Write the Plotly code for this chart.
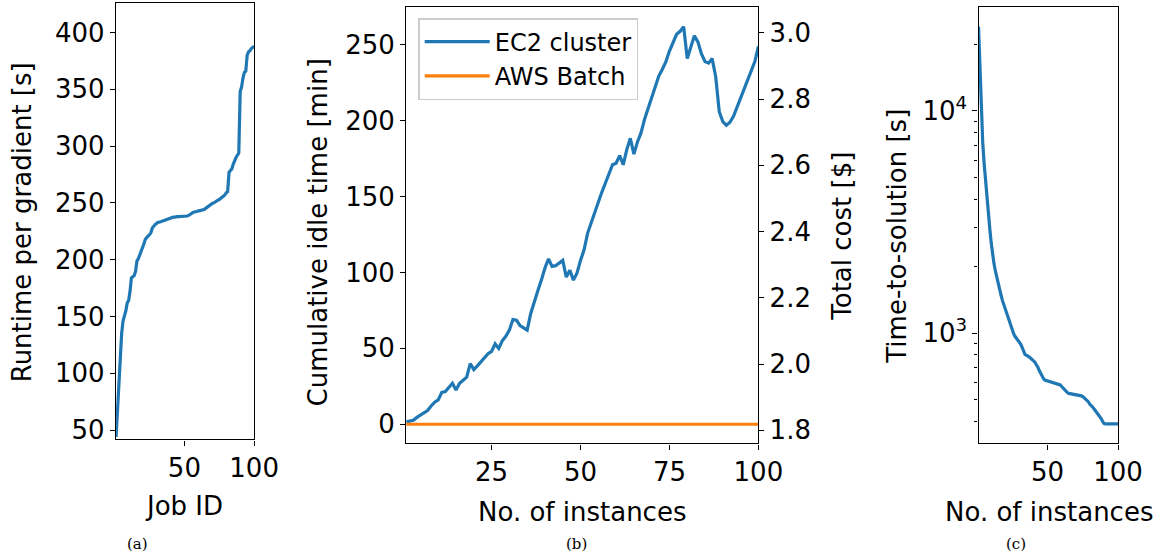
import plotly.graph_objects as go

W, H = 1163, 558

# ---------------- data ----------------
job_id = list(range(1, 101))
runtime_per_gradient = [
    44, 70, 96, 115, 135, 146, 150, 155, 162, 164,
    172, 184, 185, 186, 190, 199, 201, 204, 208, 211,
    214, 218, 220, 221, 222, 224, 228, 230, 231, 232,
    233, 233, 233.5, 234, 234.5, 235, 235.5, 236, 236.5, 237,
    237, 237.5, 237.5, 238, 238, 238, 238, 238, 238, 238,
    238.5, 238.5, 239, 240, 241, 241.5, 242, 242, 242.5, 243,
    243, 243.5, 244, 244, 245, 246, 247, 248, 249, 249.5,
    250, 251, 252, 252.5, 253, 254, 255, 256, 257, 259,
    260, 277, 279, 280, 284, 288, 290, 292, 294, 348,
    352, 360, 365, 366, 380, 383, 384, 386, 387, 388,
]

instances = list(range(1, 101))
ec2_idle = [
    1.5, 2, 2.6, 4.5, 6, 7, 9, 12, 14.5, 16,
    21, 21.5, 24, 27, 22.5, 27, 29, 31, 40, 36,
    38.5, 41, 44, 46.5, 48, 53, 50, 55, 58, 62,
    69, 68.6, 65, 63.5, 62, 73, 81, 88, 95, 103,
    109, 104, 104.5, 106, 108, 97, 101.5, 95, 99.5, 108,
    115, 126, 133, 140, 147, 153, 159, 165, 171, 172,
    177, 171, 181, 188.5, 178, 186, 192, 201, 208, 216,
    223, 229.5, 234, 239, 246, 252, 257, 259, 262, 241,
    249, 256, 252, 244, 239, 238, 241, 229, 206, 199.5,
    197, 199, 203, 209, 214.5, 220, 226, 232, 239, 249,
]
batch_idle = [0] * 100

time_to_solution = [
    24000, 15000, 10000, 7200, 5800, 4800, 4000, 3400, 2950, 2550,
    2250, 2050, 1900, 1775, 1650, 1560, 1480, 1400, 1340, 1270,
    1210, 1160, 1110, 1060, 1020, 990, 965, 945, 925, 912,
    890, 860, 820, 800, 795, 790, 780, 770, 762, 755,
    740, 720, 705, 680, 660, 640, 625, 615, 612, 610,
    608, 606, 603, 600, 597, 594, 590, 587, 584, 575,
    565, 555, 550, 540, 535, 534, 532, 530, 528, 527,
    526, 525, 524, 522, 518, 512, 506, 498, 490, 478,
    472, 465, 455, 447, 440, 430, 420, 412, 400, 392,
    390, 390, 390, 390, 390, 390, 390, 390, 390, 390,
]

cost_ticks = [1.8, 2.0, 2.2, 2.4, 2.6, 2.8, 3.0]
log_major = [1000, 10000]
log_major_text = ["10<sup>3</sup>", "10<sup>4</sup>"]
log_minor = [400, 500, 600, 700, 800, 900, 2000, 3000, 4000, 5000,
             6000, 7000, 8000, 9000, 20000]

BLUE = "#1f77b4"
ORANGE = "#ff7f0e"
FONT = "DejaVu Sans"
FS = 26
SX = 1.0225   # compensation factors
SY = 1.012


def px_x(p):
    return p * SX / W


def px_y(p):
    return 1 - p * SY / H


fig = go.Figure()

# panel a
fig.add_trace(go.Scatter(x=job_id, y=runtime_per_gradient, mode="lines",
                         line=dict(color=BLUE, width=3.2), showlegend=False,
                         xaxis="x", yaxis="y"))
# panel b
fig.add_trace(go.Scatter(x=instances, y=ec2_idle, mode="lines", name="EC2 cluster",
                         line=dict(color=BLUE, width=3.2), xaxis="x2", yaxis="y2"))
fig.add_trace(go.Scatter(x=instances, y=batch_idle, mode="lines", name="AWS Batch",
                         line=dict(color=ORANGE, width=3.2), xaxis="x2", yaxis="y2"))
fig.add_trace(go.Scatter(x=[None], y=[None], mode="lines", showlegend=False,
                         hoverinfo="skip", xaxis="x2", yaxis="y3"))
# panel c
fig.add_trace(go.Scatter(x=instances, y=time_to_solution, mode="lines",
                         line=dict(color=BLUE, width=3.2), showlegend=False,
                         xaxis="x3", yaxis="y4"))

axis_common = dict(showgrid=False, zeroline=False, showline=True, linecolor="black",
                   linewidth=1.4, mirror=True, ticks="outside", ticklen=5, tickwidth=1.3,
                   tickcolor="black", tickfont=dict(family=FONT, size=FS, color="black"))

fig.update_layout(
    width=W, height=H, margin=dict(l=0, r=0, t=0, b=0),
    paper_bgcolor="white", plot_bgcolor="white",
    font=dict(family=FONT, size=FS, color="black"),
    xaxis=dict(domain=[px_x(116), px_x(254)], range=[1, 100], tickvals=[50, 100],
               anchor="y", **axis_common),
    yaxis=dict(domain=[px_y(439), px_y(3)], range=[41.8, 426],
               tickvals=[50, 100, 150, 200, 250, 300, 350, 400], anchor="x", **axis_common),
    xaxis2=dict(domain=[px_x(406), px_x(758)], range=[1, 100], tickvals=[25, 50, 75, 100],
                anchor="y2", **axis_common),
    yaxis2=dict(domain=[px_y(443), px_y(7)], range=[-12.7, 275],
                tickvals=[0, 50, 100, 150, 200, 250], anchor="x2", **axis_common),
    yaxis3=dict(overlaying="y2", side="right", anchor="x2", range=[1.76, 3.078],
                tickvals=cost_ticks, ticktext=[f"{v:.1f}" for v in cost_ticks],
                showgrid=False, zeroline=False, showline=False, ticks="outside",
                ticklen=5, tickwidth=1.3, tickcolor="black",
                tickfont=dict(family=FONT, size=FS, color="black")),
    xaxis3=dict(domain=[px_x(978), px_x(1117.5)], range=[1, 100], tickvals=[50, 100],
                anchor="y4", **axis_common),
    yaxis4=dict(domain=[px_y(443), px_y(7)], type="log", range=[2.503, 4.468],
                tickvals=log_major, ticktext=log_major_text, anchor="x3",
                minor=dict(tickvals=log_minor, ticks="outside", ticklen=3,
                           tickwidth=1, tickcolor="black", showgrid=False),
                **axis_common),
    legend=dict(x=px_x(418), y=px_y(18), xanchor="left", yanchor="top",
                bgcolor="rgba(255,255,255,0.8)", bordercolor="#cccccc", borderwidth=1.5,
                font=dict(family=FONT, size=24, color="black"), itemwidth=65,
                tracegroupgap=0),
)

annos = [
    # axis titles
    dict(text="Runtime per gradient [s]", x=px_x(22), y=px_y(222), textangle=-90),
    dict(text="Job ID", x=px_x(184), y=px_y(505), textangle=0),
    dict(text="Cumulative idle time [min]", x=px_x(318), y=px_y(232), textangle=-90),
    dict(text="No. of instances", x=px_x(582), y=px_y(511), textangle=0),
    dict(text="Total cost [$]", x=px_x(842), y=px_y(236), textangle=-90),
    dict(text="Time-to-solution [s]", x=px_x(897), y=px_y(236), textangle=-90),
    dict(text="No. of instances", x=px_x(1048), y=px_y(511), textangle=0),
]
for a in annos:
    fig.add_annotation(xref="paper", yref="paper", x=a["x"], y=a["y"], text=a["text"],
                       textangle=a["textangle"], showarrow=False, xanchor="center",
                       yanchor="middle", font=dict(family=FONT, size=FS, color="black"))

for txt, xp in [("(a)", 137), ("(b)", 576), ("(c)", 1015)]:
    fig.add_annotation(xref="paper", yref="paper", x=px_x(xp), y=px_y(543), text=txt,
                       showarrow=False, xanchor="center", yanchor="middle",
                       font=dict(family="DejaVu Serif", size=15, color="black"))

fig.write_html("out.html")
